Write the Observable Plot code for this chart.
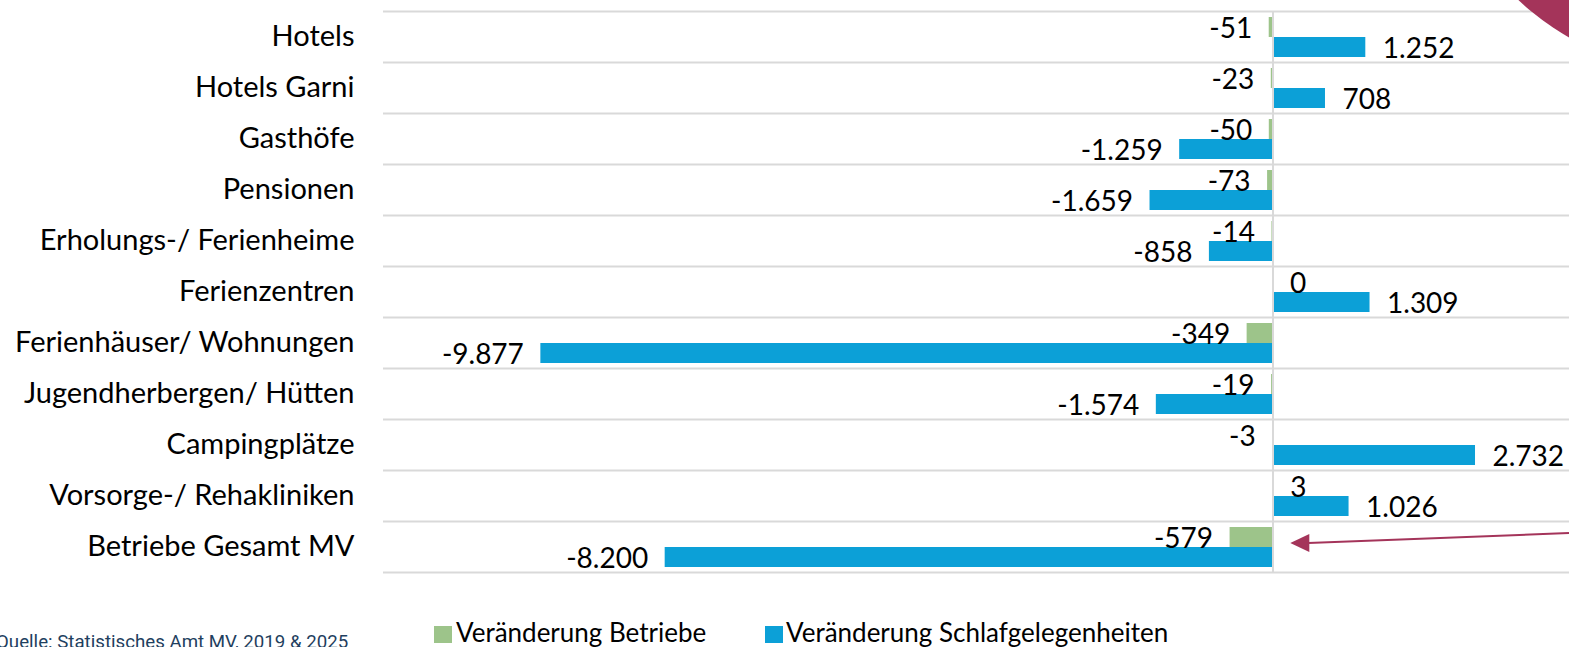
<!DOCTYPE html>
<html><head><meta charset="utf-8">
<script src="https://cdn.jsdelivr.net/npm/d3@7"></script>
<script src="https://cdn.jsdelivr.net/npm/@observablehq/plot@0.6"></script>
<style>
html,body{margin:0;padding:0;background:#fff;overflow:hidden;width:1569px;height:647px;}
#wrap{position:relative;width:1569px;height:647px;overflow:hidden;}
#wrap svg{position:absolute;left:0;top:0;}
.leg-sw{position:absolute;width:18px;height:17px;}
.leg-tx{position:absolute;font-family:Lato,sans-serif;font-size:26px;line-height:1;color:#000;white-space:nowrap;}
#caption{position:absolute;left:-4px;top:633px;font-family:Roboto,sans-serif;font-size:18.7px;line-height:1;color:#1f3f60;white-space:nowrap;}
#blob{position:absolute;border-radius:50%;background:#a4345a;}
</style></head><body><div id="wrap"></div>
<script>
const categories = ["Hotels","Hotels Garni","Gasthöfe","Pensionen","Erholungs-/ Ferienheime","Ferienzentren","Ferienhäuser/ Wohnungen","Jugendherbergen/ Hütten","Campingplätze","Vorsorge-/ Rehakliniken","Betriebe Gesamt MV"];
const betriebe = [-51,-23,-50,-73,-14,0,-349,-19,-3,3,-579];
const schlafgelegenheiten = [1252,708,-1259,-1659,-858,1309,-9877,-1574,2732,1026,-8200];
const seriesNames = ["Veränderung Betriebe","Veränderung Schlafgelegenheiten"];
const seriesColors = ["#9dc48a","#0ca0d7"];
const captionText = "Quelle: Statistisches Amt MV, 2019 & 2025";
const arrowTarget = {x: 240, category: "Betriebe Gesamt MV"};

const rows = categories.map((c,i)=>({category:c, betriebe:betriebe[i], schlaf:schlafgelegenheiten[i]}));
const fmt = d3.formatLocale({decimal:",",thousands:".",grouping:[3],currency:["","€"],minus:"-"}).format(",d");
const F = 28;
const gridColor = "#d9d9d9";

const plot = Plot.plot({
  width:1569, height:600, marginLeft:383, marginRight:0, marginTop:11, marginBottom:28,
  style:{fontFamily:"Lato, sans-serif", fontSize:"29px", color:"#000", background:"transparent", overflow:"visible"},
  x:{domain:[-12000,4000], axis:null},
  y:{domain:categories, padding:0, tickSize:0, tickPadding:29, label:null},
  marks:[
    Plot.ruleY(categories, {y:d=>d, dy:-25.5, stroke:gridColor, strokeWidth:2}),
    Plot.ruleY(categories.slice(-1), {y:d=>d, dy:25.5, stroke:gridColor, strokeWidth:2}),
    Plot.barX(rows, {y:"category", x:"betriebe", fill:seriesColors[0], insetTop:6, insetBottom:25}),
    Plot.barX(rows, {y:"category", x:"schlaf", fill:seriesColors[1], insetTop:26, insetBottom:5}),
    Plot.ruleX([0], {stroke:gridColor, strokeWidth:2}),
    Plot.text(rows.filter(d=>d.betriebe<0), {y:"category", x:"betriebe", text:d=>fmt(d.betriebe), textAnchor:"end", dx:-17, dy:-8, fontSize:F, fill:"#000"}),
    Plot.text(rows.filter(d=>d.betriebe>=0), {y:"category", x:"betriebe", text:d=>fmt(d.betriebe), textAnchor:"start", dx:17, dy:-8, fontSize:F, fill:"#000"}),
    Plot.text(rows.filter(d=>d.schlaf<0), {y:"category", x:"schlaf", text:d=>fmt(d.schlaf), textAnchor:"end", dx:-17, dy:12, fontSize:F, fill:"#000"}),
    Plot.text(rows.filter(d=>d.schlaf>=0), {y:"category", x:"schlaf", text:d=>fmt(d.schlaf), textAnchor:"start", dx:17, dy:12, fontSize:F, fill:"#000"})
  ]
});
const wrap = document.getElementById("wrap");
wrap.appendChild(plot);

// arrow annotation
const xs = plot.scale("x"), ys = plot.scale("y");
const tipX = xs.apply(arrowTarget.x);
const tipY = ys.apply(arrowTarget.category) + ys.bandwidth/2 - 3.5;
const ns = "http://www.w3.org/2000/svg";
const g = document.createElementNS(ns,"g");
const line = document.createElementNS(ns,"line");
line.setAttribute("x1", tipX+18); line.setAttribute("y1", tipY);
line.setAttribute("x2", 1569); line.setAttribute("y2", tipY-10);
line.setAttribute("stroke","#a4345a"); line.setAttribute("stroke-width","2");
const head = document.createElementNS(ns,"path");
head.setAttribute("d", `M${tipX},${tipY}L${tipX+19},${tipY-9}L${tipX+19},${tipY+9}Z`);
head.setAttribute("fill","#a4345a");
g.appendChild(line); g.appendChild(head);
plot.appendChild(g);

// decorative circle
const blob = document.createElement("div");
blob.id = "blob";
const r = 270, cx = 1703, cy = -197;
blob.style.left = (cx-r)+"px"; blob.style.top = (cy-r)+"px";
blob.style.width = (2*r)+"px"; blob.style.height = (2*r)+"px";
wrap.appendChild(blob);

// legend
const legX = [[434,456],[765,786]];
seriesNames.forEach((name,i)=>{
  const sw = document.createElement("div");
  sw.className = "leg-sw"; sw.style.background = seriesColors[i];
  sw.style.left = legX[i][0]+"px"; sw.style.top = "626px";
  const tx = document.createElement("div");
  tx.className = "leg-tx"; tx.textContent = name;
  tx.style.left = legX[i][1]+"px"; tx.style.top = "619px";
  wrap.appendChild(sw); wrap.appendChild(tx);
});
const cap = document.createElement("div");
cap.id = "caption"; cap.textContent = captionText;
wrap.appendChild(cap);
</script></body></html>
